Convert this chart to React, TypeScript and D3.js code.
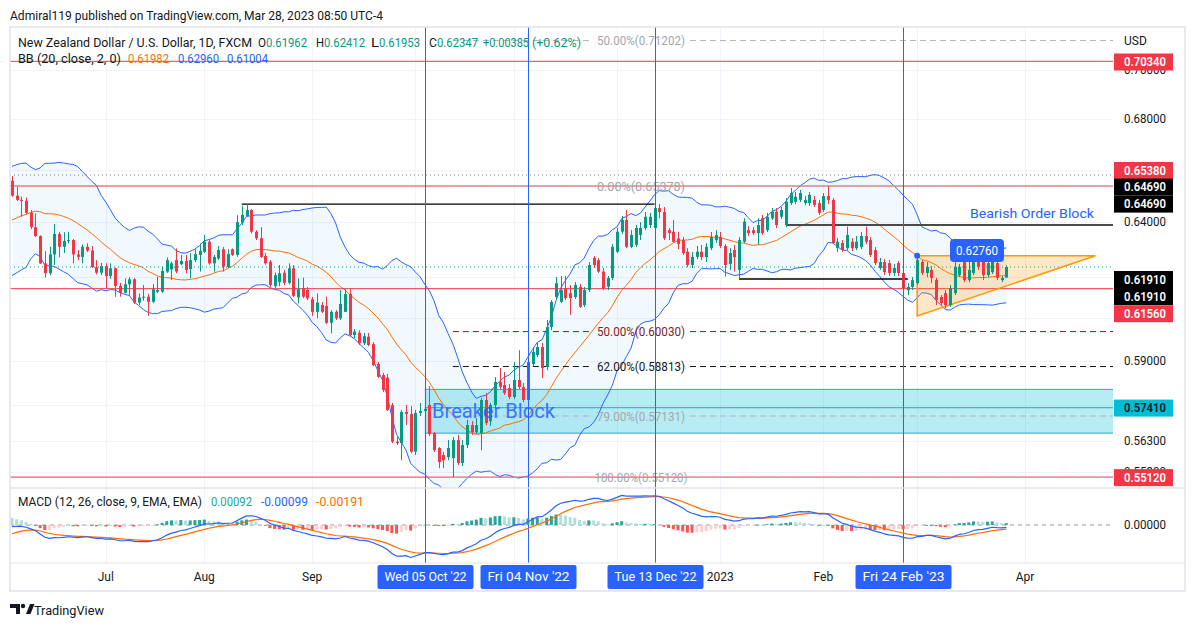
import React from 'react';
import * as d3 from 'd3';

// ---------- DATA ----------
const FIRST_BAR = '2022-06-03';

const OPEN = [
  0.6558,0.6501,0.6485,0.6482,0.6436,0.6382,0.6349,0.6248,0.6212,0.6281,
  0.6357,0.6309,0.6331,0.6334,0.6281,0.6272,0.6309,0.6295,0.6234,0.6214,
  0.6238,0.6202,0.6230,0.6166,0.6141,0.6172,0.6190,0.6106,0.6124,0.6127,
  0.6109,0.6145,0.6145,0.6218,0.6226,0.6260,0.6245,0.6257,0.6227,0.6260,
  0.6279,0.6290,0.6328,0.6248,0.6266,0.6300,0.6234,0.6300,0.6279,0.6399,
  0.6424,0.6447,0.6365,0.6341,0.6275,0.6254,0.6165,0.6180,0.6214,0.6177,
  0.6230,0.6125,0.6157,0.6151,0.6118,0.6073,0.6097,0.6094,0.6034,0.6073,
  0.6050,0.6073,0.6137,0.5991,0.5999,0.5962,0.5985,0.5959,0.5890,0.5852,
  0.5843,0.5750,0.5628,0.5623,0.5727,0.5720,0.5595,0.5723,0.5730,0.5750,
  0.5656,0.5607,0.5584,0.5577,0.5574,0.5633,0.5558,0.5617,0.5683,0.5660,
  0.5656,0.5767,0.5696,0.5750,0.5828,0.5818,0.5808,0.5777,0.5835,0.5811,
  0.5767,0.5890,0.5921,0.5949,0.5880,0.6019,0.6126,0.6109,0.6158,0.6140,
  0.6126,0.6163,0.6097,0.6151,0.6268,0.6260,0.6218,0.6163,0.6195,0.6291,
  0.6365,0.6409,0.6309,0.6316,0.6353,0.6379,0.6390,0.6379,0.6454,0.6439,
  0.6371,0.6365,0.6340,0.6334,0.6291,0.6242,0.6272,0.6291,0.6271,0.6304,
  0.6334,0.6346,0.6312,0.6246,0.6297,0.6224,0.6328,0.6371,0.6371,0.6360,
  0.6416,0.6371,0.6415,0.6440,0.6421,0.6390,0.6473,0.6478,0.6485,0.6473,
  0.6473,0.6485,0.6473,0.6447,0.6500,0.6485,0.6304,0.6323,0.6304,0.6328,
  0.6304,0.6308,0.6349,0.6334,0.6297,0.6231,0.6253,0.6249,0.6213,0.6249,
  0.6213,0.6151,0.6162,0.6176,0.6253,0.6213,0.6224,0.6187,0.6126,0.6140,
  0.6097,0.6140,0.6205,0.6253,0.6187,0.6213,0.6271,0.6253,0.6205,0.6216,
  0.6249,0.6187,0.61962,
];
const HIGH = [
  0.6576,0.6535,0.6497,0.6494,0.6447,0.6434,0.6352,0.6293,0.6309,0.6394,
  0.6365,0.6363,0.6365,0.6338,0.6297,0.6318,0.6322,0.6312,0.6260,0.6250,
  0.6248,0.6248,0.6233,0.6177,0.6193,0.6198,0.6194,0.6139,0.6169,0.6137,
  0.6172,0.6199,0.6236,0.6270,0.6254,0.6303,0.6279,0.6279,0.6285,0.6300,
  0.6321,0.6353,0.6337,0.6279,0.6312,0.6309,0.6300,0.6303,0.6427,0.6463,
  0.6469,0.6450,0.6371,0.6382,0.6286,0.6260,0.6215,0.6242,0.6224,0.6248,
  0.6242,0.6193,0.6196,0.6162,0.6126,0.6139,0.6108,0.6127,0.6079,0.6079,
  0.6151,0.6154,0.6154,0.6012,0.6008,0.5998,0.5998,0.5966,0.5897,0.5859,
  0.5856,0.5757,0.5643,0.5733,0.5750,0.5747,0.5733,0.5757,0.5753,0.5814,
  0.5660,0.5610,0.5594,0.5633,0.5643,0.5650,0.5633,0.5700,0.5696,0.5706,
  0.5774,0.5791,0.5757,0.5845,0.5876,0.5862,0.5821,0.5897,0.5938,0.5825,
  0.5928,0.5949,0.5963,0.5963,0.6044,0.6115,0.6198,0.6202,0.6202,0.6169,
  0.6180,0.6173,0.6162,0.6253,0.6275,0.6268,0.6231,0.6202,0.6319,0.6379,
  0.6424,0.6447,0.6371,0.6390,0.6401,0.6439,0.6436,0.6514,0.6469,0.6458,
  0.6379,0.6409,0.6365,0.6345,0.6304,0.6290,0.6312,0.6316,0.6322,0.6364,
  0.6371,0.6364,0.6319,0.6304,0.6316,0.6345,0.6416,0.6386,0.6382,0.6416,
  0.6428,0.6436,0.6454,0.6454,0.6458,0.6492,0.6530,0.6515,0.6523,0.6500,
  0.6515,0.6500,0.6485,0.6511,0.6538,0.6492,0.6341,0.6334,0.6384,0.6341,
  0.6349,0.6364,0.6384,0.6345,0.6308,0.6268,0.6264,0.6260,0.6246,0.6257,
  0.6249,0.6176,0.6198,0.6276,0.6260,0.6253,0.6238,0.6195,0.6133,0.6151,
  0.6169,0.6260,0.6246,0.6268,0.6271,0.6290,0.6279,0.6268,0.6297,0.6304,
  0.6260,0.6202,0.62412,
];
const LOW = [
  0.6497,0.6481,0.6421,0.6432,0.6375,0.6345,0.6246,0.6196,0.6205,0.6242,
  0.6270,0.6286,0.6322,0.6248,0.6260,0.6248,0.6290,0.6231,0.6208,0.6205,
  0.6157,0.6191,0.6127,0.6127,0.6139,0.6130,0.6101,0.6097,0.6113,0.6059,
  0.6105,0.6140,0.6141,0.6213,0.6187,0.6212,0.6241,0.6212,0.6193,0.6253,
  0.6218,0.6286,0.6243,0.6218,0.6260,0.6218,0.6231,0.6275,0.6272,0.6390,
  0.6421,0.6359,0.6334,0.6268,0.6243,0.6163,0.6158,0.6165,0.6169,0.6172,
  0.6126,0.6103,0.6122,0.6115,0.6059,0.6050,0.6069,0.6030,0.5997,0.6044,
  0.6044,0.6072,0.5987,0.5980,0.5956,0.5956,0.5952,0.5883,0.5842,0.5794,
  0.5730,0.5623,0.5617,0.5567,0.5683,0.5590,0.5584,0.5713,0.5720,0.5646,
  0.5594,0.5541,0.5541,0.5567,0.5512,0.5551,0.5548,0.5607,0.5650,0.5653,
  0.5600,0.5683,0.5680,0.5740,0.5804,0.5784,0.5770,0.5770,0.5804,0.5760,
  0.5760,0.5883,0.5914,0.5842,0.5869,0.6008,0.6115,0.6104,0.6115,0.6062,
  0.6119,0.6087,0.6090,0.6144,0.6231,0.6213,0.6151,0.6151,0.6187,0.6286,
  0.6357,0.6304,0.6304,0.6308,0.6334,0.6371,0.6379,0.6371,0.6416,0.6334,
  0.6334,0.6323,0.6300,0.6279,0.6234,0.6231,0.6264,0.6260,0.6253,0.6297,
  0.6323,0.6304,0.6200,0.6224,0.6218,0.6191,0.6323,0.6349,0.6353,0.6316,
  0.6353,0.6364,0.6409,0.6379,0.6413,0.6382,0.6465,0.6469,0.6477,0.6465,
  0.6462,0.6458,0.6428,0.6439,0.6469,0.6319,0.6290,0.6290,0.6297,0.6293,
  0.6297,0.6300,0.6319,0.6271,0.6242,0.6224,0.6205,0.6202,0.6202,0.6202,
  0.6151,0.6133,0.6151,0.6169,0.6205,0.6198,0.6176,0.6097,0.6094,0.6085,
  0.6090,0.6133,0.6198,0.6180,0.6180,0.6205,0.6224,0.6187,0.6198,0.6209,
  0.6187,0.6180,0.61953,
];
const CLOSE = [
  0.6501,0.6485,0.6482,0.6436,0.6382,0.6349,0.6248,0.6212,0.6281,0.6357,
  0.6309,0.6331,0.6334,0.6281,0.6272,0.6309,0.6295,0.6234,0.6214,0.6238,
  0.6202,0.6230,0.6166,0.6141,0.6172,0.6190,0.6106,0.6124,0.6127,0.6109,
  0.6154,0.6151,0.6220,0.6260,0.6248,0.6218,0.6257,0.6224,0.6260,0.6282,
  0.6294,0.6328,0.6248,0.6272,0.6297,0.6236,0.6282,0.6279,0.6401,0.6428,
  0.6447,0.6365,0.6341,0.6272,0.6248,0.6169,0.6205,0.6212,0.6177,0.6230,
  0.6130,0.6154,0.6127,0.6121,0.6073,0.6106,0.6073,0.6034,0.6073,0.6050,
  0.6101,0.6137,0.5991,0.6003,0.5962,0.5987,0.5956,0.5886,0.5846,0.5801,
  0.5733,0.5628,0.5623,0.5727,0.5720,0.5595,0.5723,0.5730,0.5737,0.5653,
  0.5600,0.5561,0.5567,0.5607,0.5633,0.5558,0.5617,0.5683,0.5660,0.5683,
  0.5767,0.5690,0.5750,0.5828,0.5811,0.5791,0.5777,0.5835,0.5811,0.5767,
  0.5897,0.5932,0.5949,0.5876,0.6019,0.6108,0.6176,0.6151,0.6122,0.6122,
  0.6169,0.6091,0.6151,0.6242,0.6242,0.6218,0.6157,0.6195,0.6309,0.6365,
  0.6409,0.6309,0.6353,0.6379,0.6379,0.6421,0.6421,0.6454,0.6439,0.6341,
  0.6360,0.6328,0.6320,0.6286,0.6242,0.6272,0.6291,0.6271,0.6309,0.6345,
  0.6353,0.6312,0.6242,0.6286,0.6271,0.6334,0.6403,0.6360,0.6360,0.6390,
  0.6360,0.6421,0.6440,0.6390,0.6447,0.6478,0.6511,0.6497,0.6511,0.6485,
  0.6504,0.6466,0.6436,0.6500,0.6485,0.6323,0.6328,0.6297,0.6353,0.6304,
  0.6328,0.6349,0.6328,0.6279,0.6249,0.6253,0.6216,0.6213,0.6231,0.6213,
  0.6158,0.6162,0.6187,0.6260,0.6213,0.6235,0.6195,0.6115,0.6104,0.6097,
  0.6158,0.6235,0.6235,0.6187,0.6224,0.6271,0.6235,0.6205,0.6249,0.6260,
  0.6195,0.6195,0.62347,
];
// estimated closes before the first visible bar (Apr 1 - Jun 2 2022), only to seed BB / MACD
const WARMUP_CLOSE = [
  0.6930,0.6950,0.6985,0.6920,0.6870,0.6845,0.6830,0.6850,0.6830,0.6770,
  0.6780,0.6760,0.6740,0.6790,0.6720,0.6700,0.6620,0.6580,0.6550,0.6500,
  0.6460,0.6470,0.6450,0.6530,0.6410,0.6370,0.6320,0.6320,0.6340,0.6220,
  0.6260,0.6290,0.6360,0.6290,0.6370,0.6380,0.6450,0.6460,0.6460,0.6500,
  0.6540,0.6530,0.6520,0.6500,0.6560,
];

const PRICE_TICKS = [0.70, 0.68, 0.66, 0.64, 0.62, 0.605, 0.59, 0.575, 0.563, 0.553];
const MONTH_LABELS = ['Jul', 'Aug', 'Sep', 'Oct', 'Nov', 'Dec', '2023', 'Feb', 'Mar', 'Apr'];
const MONTH_DATES = ['2022-07-01', '2022-08-01', '2022-09-01', '2022-10-03', '2022-11-01', '2022-12-01', '2023-01-02', '2023-02-01', '2023-03-01', '2023-04-03'];
const MARKER_LABELS = ["Wed 05 Oct '22", "Fri 04 Nov '22", "Tue 13 Dec '22", "Fri 24 Feb '23"];
const MARKER_DATES = ['2022-10-05', '2022-11-04', '2022-12-13', '2023-02-24'];

const RED_LEVELS = [0.7034, 0.6538, 0.6156, 0.5512];
const GREY_DOTTED_LEVEL = 0.6580;
const HIGH_LINE = { price: 0.6469, from: '2022-08-11', to: '2022-12-13' };
const LOW_LINE = { price: 0.6191, from: '2023-01-06', to: '2023-02-27' };
const ORDER_BLOCK = { price: 0.6390, from: '2023-01-20' };
const FIB_FROM = '2022-10-13';
const FIB_LABELS = ['50.00%(0.71202)', '0.00%(0.65378)', '50.00%(0.60030)', '62.00%(0.58813)', '79.00%(0.57131)', '100.00%(0.55120)'];
const FIB_PRICES = [0.71202, 0.65378, 0.6003, 0.58813, 0.57131, 0.5512];
const FIB_COLORS = ['#b2b5be', '#b2b5be', '#7f1d1d', '#131722', '#b2b5be', '#b2b5be'];
const BREAKER = { from: '2022-10-05', top: 0.5803, mid: 0.5741, bottom: 0.5656 };
const TRIANGLE = { from: '2023-03-01', toBar: 231, top: 0.6276, bottom: 0.6058 };

const AXIS_LABEL_TEXT = ['0.70340', '0.65380', '0.64690', '0.64690', '0.61910', '0.61910', '0.61560', '0.57410', '0.55120'];
const AXIS_LABEL_PRICE = [0.7034, 0.6538, 0.6469, 0.6469, 0.6191, 0.6191, 0.6156, 0.5741, 0.5512];
const AXIS_LABEL_KIND = ['red', 'red', 'black', 'black', 'black', 'black', 'red', 'cyan', 'red'];

const HEADER = 'Admiral119 published on TradingView.com, Mar 28, 2023 08:50 UTC-4';
const SYMBOL = 'New Zealand Dollar / U.S. Dollar, 1D, FXCM';
const OHLC_KEYS = ['O', 'H', 'L', 'C'];
const OHLC_VALUES = ['0.61962', '0.62412', '0.61953', '0.62347'];
const CHANGE = ['+0.00385', '(+0.62%)'];
const BB_TITLE = 'BB (20, close, 2, 0)';
const BB_VALUES = ['0.61982', '0.62960', '0.61004'];
const MACD_TITLE = 'MACD (12, 26, close, 9, EMA, EMA)';
const MACD_VALUES = ['0.00092', '-0.00099', '-0.00191'];

// ---------- helpers ----------
const FONT = 'Roboto, "Noto Sans", "DejaVu Sans", sans-serif';
const UP = '#089981';
const DOWN = '#f23645';
const BLUE = '#2962ff';
const ORANGE = '#ff6d00';

function barIndex(dateStr: string): number {
  const [y0, m0, d0] = FIRST_BAR.split('-').map(Number);
  const [y1, m1, d1] = dateStr.split('-').map(Number);
  const t = new Date(Date.UTC(y0, m0 - 1, d0));
  const end = new Date(Date.UTC(y1, m1 - 1, d1));
  let n = 0;
  while (t < end) {
    const wd = t.getUTCDay();
    if (wd !== 0 && wd !== 6) n++;
    t.setUTCDate(t.getUTCDate() + 1);
  }
  return n;
}

function ema(values: number[], n: number): number[] {
  const k = 2 / (n + 1);
  const out: number[] = [];
  let prev = values[0];
  values.forEach((v, i) => {
    prev = i === 0 ? v : v * k + prev * (1 - k);
    out.push(prev);
  });
  return out;
}

function Txt(props: any) {
  const { x, y, children, fill = '#131722', size = 12, anchor = 'start', len, weight, opacity } = props;
  return (
    <text
      x={x}
      y={y}
      fill={fill}
      fontSize={size}
      fontFamily={FONT}
      textAnchor={anchor}
      dominantBaseline="central"
      textLength={len}
      lengthAdjust={len ? 'spacingAndGlyphs' : undefined}
      fontWeight={weight}
      opacity={opacity}
    >
      {children}
    </text>
  );
}

export default function App() {
  const W = 1194;
  const H = 627;
  const PL = 10;
  const PR = 1113;
  const AXR = 1185;
  const TOP = 27;
  const MAIN_B = 488;
  const MACD_B = 563;
  const BOT = 591;

  const n = CLOSE.length;
  const x = d3.scaleLinear().domain([0, 212]).range([12, 1006.3]);
  const y = d3.scaleLog().domain([0.563, 0.68]).range([441, 119]);
  const ym = d3.scaleLinear().domain([-0.0133, 0.0125]).range([557, 495]);

  // indicators
  const all = WARMUP_CLOSE.concat(CLOSE);
  const W0 = WARMUP_CLOSE.length;
  const bb = CLOSE.map((_, i) => {
    const j = i + W0;
    const win = all.slice(j - 19, j + 1);
    const m = d3.mean(win) as number;
    const sd = Math.sqrt(d3.mean(win.map((v) => (v - m) * (v - m))) as number);
    return { i, m, up: m + 2 * sd, lo: m - 2 * sd };
  });
  const e12 = ema(all, 12);
  const e26 = ema(all, 26);
  const macdAll = all.map((_, j) => e12[j] - e26[j]);
  const sigAll = ema(macdAll, 9);
  const macd = CLOSE.map((_, i) => {
    const j = i + W0;
    const h = macdAll[j] - sigAll[j];
    const ph = macdAll[j - 1] - sigAll[j - 1];
    let col;
    if (h >= 0) col = h > ph ? '#26a69a' : '#b2dfdb';
    else col = h < ph ? '#ff5252' : '#ffcdd2';
    return { i, m: macdAll[j], s: sigAll[j], h, col };
  });

  const bbArea = d3.area<any>().x((d) => x(d.i)).y0((d) => y(d.lo)).y1((d) => y(d.up))(bb) || '';
  const bbUp = d3.line<any>().x((d) => x(d.i)).y((d) => y(d.up))(bb) || '';
  const bbLo = d3.line<any>().x((d) => x(d.i)).y((d) => y(d.lo))(bb) || '';
  const bbMid = d3.line<any>().x((d) => x(d.i)).y((d) => y(d.m))(bb) || '';
  const macdLine = d3.line<any>().x((d) => x(d.i)).y((d) => ym(d.m))(macd) || '';
  const sigLine = d3.line<any>().x((d) => x(d.i)).y((d) => ym(d.s))(macd) || '';

  const monthX = MONTH_DATES.map((d) => x(barIndex(d)));
  const markerX = MARKER_DATES.map((d) => Math.round(x(barIndex(d))) + 0.5);
  const BOX_HALF = 48;
  // month labels hidden under a date marker box are not drawn (as in the reference)
  const monthVisible = monthX.map((mx) => markerX.every((bx) => Math.abs(mx - bx) > BOX_HALF + 8));

  const fibX0 = x(barIndex(FIB_FROM));
  const labelShift = [0.7, -15.5, -17, 0, 0.5, 17.5, 25, 0.4, 0.5];
  const labelY = AXIS_LABEL_PRICE.map((p, k) => y(p) + labelShift[k]);
  // tick labels fully covered by a coloured price label are not drawn
  const tickVisible = PRICE_TICKS.map((p) => labelY.every((ly) => Math.abs(y(p) - ly) > 5.5));

  const bx0 = x(barIndex(BREAKER.from));
  const triX0 = x(barIndex(TRIANGLE.from));
  const triX1 = x(TRIANGLE.toBar);
  const lastClose = CLOSE[n - 1];

  return (
    <div style={{ position: 'absolute', left: 0, top: 0, width: W, height: H, background: '#fff' }}>
      <svg width={W} height={H} style={{ display: 'block' }}>
        <defs>
          <clipPath id="mainClip">
            <rect x={PL} y={TOP} width={PR - PL} height={MAIN_B - TOP} />
          </clipPath>
          <clipPath id="macdClip">
            <rect x={PL} y={MAIN_B} width={PR - PL} height={MACD_B - MAIN_B} />
          </clipPath>
        </defs>
        <rect x={0} y={0} width={W} height={H} fill="#fff" />

        {/* header */}
        <Txt x={10} y={15} size={13} len={373}>{HEADER}</Txt>

        {/* grid */}
        <g stroke="#f0f3fa" strokeWidth={1}>
          {PRICE_TICKS.map((p, k) => (
            <line key={'hg' + k} x1={PL} x2={PR} y1={Math.round(y(p)) + 0.5} y2={Math.round(y(p)) + 0.5} />
          ))}
          {monthX.map((mx, k) => (
            <line key={'vg' + k} x1={Math.round(mx) + 0.5} x2={Math.round(mx) + 0.5} y1={TOP} y2={MACD_B} />
          ))}
        </g>

        <g clipPath="url(#mainClip)">
          {/* breaker block */}
          <rect x={bx0} y={y(BREAKER.top)} width={PR - bx0} height={y(BREAKER.bottom) - y(BREAKER.top)} fill="rgba(0,188,212,0.28)" />
          {[BREAKER.top, BREAKER.mid, BREAKER.bottom].map((p, k) => (
            <line key={'bk' + k} x1={bx0} x2={PR} y1={y(p)} y2={y(p)} stroke="#00bcd4" strokeWidth={1} />
          ))}

          {/* Bollinger bands */}
          <path d={bbArea} fill="rgba(33,150,243,0.06)" />
          <path d={bbUp} fill="none" stroke={BLUE} strokeWidth={1} />
          <path d={bbLo} fill="none" stroke={BLUE} strokeWidth={1} />
          <path d={bbMid} fill="none" stroke={ORANGE} strokeWidth={1} />

          {/* horizontal levels */}
          <line x1={PL} x2={PR} y1={y(GREY_DOTTED_LEVEL)} y2={y(GREY_DOTTED_LEVEL)} stroke="#787b86" strokeDasharray="1 3" />
          {RED_LEVELS.map((p, k) => (
            <line key={'rl' + k} x1={PL} x2={PR} y1={y(p)} y2={y(p)} stroke={DOWN} strokeWidth={1} />
          ))}
          <line x1={PL} x2={PR} y1={y(lastClose)} y2={y(lastClose)} stroke={UP} strokeDasharray="1 3" />
          <line x1={x(barIndex(HIGH_LINE.from))} x2={x(barIndex(HIGH_LINE.to))} y1={y(HIGH_LINE.price)} y2={y(HIGH_LINE.price)} stroke="#000" strokeWidth={1.3} />
          <line x1={x(barIndex(LOW_LINE.from))} x2={x(barIndex(LOW_LINE.to))} y1={y(LOW_LINE.price)} y2={y(LOW_LINE.price)} stroke="#000" strokeWidth={1.3} />
          <line x1={x(barIndex(ORDER_BLOCK.from))} x2={PR} y1={y(ORDER_BLOCK.price)} y2={y(ORDER_BLOCK.price)} stroke="#4a4a4a" strokeWidth={2} />

          {/* fib levels */}
          {FIB_PRICES.map((p, k) => (
            <g key={'fb' + k}>
              <line x1={fibX0} x2={592} y1={y(p)} y2={y(p)} stroke={FIB_COLORS[k]} strokeDasharray="6 4" />
              <line x1={690} x2={PR} y1={y(p)} y2={y(p)} stroke={FIB_COLORS[k]} strokeDasharray="6 4" />
            </g>
          ))}

          {/* triangle */}
          <path
            d={`M${triX0},${y(TRIANGLE.top)} L${triX1},${y(TRIANGLE.top)} L${triX0},${y(TRIANGLE.bottom)} Z`}
            fill="rgba(255,152,0,0.22)"
            stroke="#ff9800"
            strokeWidth={1.5}
          />

          {/* candles */}
          {CLOSE.map((c, i) => {
            const o = OPEN[i];
            const col = c >= o ? UP : DOWN;
            const cx = Math.round(x(i)) + 0.5;
            const yt = y(Math.max(o, c));
            const yb = y(Math.min(o, c));
            return (
              <g key={'c' + i}>
                <line x1={cx} x2={cx} y1={y(HIGH[i])} y2={y(LOW[i])} stroke={col} strokeWidth={1} />
                <rect x={cx - 1.5} y={yt} width={3} height={Math.max(1, yb - yt)} fill={col} />
              </g>
            );
          })}

          {/* texts on chart */}
          <Txt x={432} y={411} size={20} fill={BLUE} opacity={0.85} len={123}>Breaker Block</Txt>
          <Txt x={970} y={213} size={13.5} fill={BLUE} len={124}>Bearish Order Block</Txt>
          {FIB_LABELS.map((t, k) => (
            <Txt key={'fl' + k} x={641} y={y(FIB_PRICES[k])} size={12.5} anchor="middle" fill={FIB_COLORS[k] === '#b2b5be' ? '#a3a6af' : FIB_COLORS[k]} len={k === 5 ? 93 : 88}>{t}</Txt>
          ))}
          <circle cx={triX0} cy={y(TRIANGLE.top)} r={3} fill={BLUE} />
          <rect x={950} y={239} width={54} height={23} rx={4} fill={BLUE} />
          <Txt x={977} y={250.5} size={12} anchor="middle" fill="#fff" len={42}>{TRIANGLE.top.toFixed(5)}</Txt>
        </g>

        {/* marker vertical lines */}
        {markerX.map((mx, k) => (
          <line key={'mk' + k} x1={mx} x2={mx} y1={TOP} y2={MACD_B} stroke={BLUE} strokeWidth={1} />
        ))}

        {/* legend */}
        <Txt x={18} y={42.5} len={234}>{SYMBOL}</Txt>
        {OHLC_KEYS.map((k, idx) => {
          const xs = [258, 316, 371, 429][idx];
          return (
            <g key={'ohlc' + k}>
              <Txt x={xs} y={42.5} len={8}>{k}</Txt>
              <Txt x={xs + 8} y={42.5} fill={UP} len={41}>{OHLC_VALUES[idx]}</Txt>
            </g>
          );
        })}
        <Txt x={483} y={42.5} fill={UP} len={46}>{CHANGE[0]}</Txt>
        <Txt x={532} y={42.5} fill={UP} len={49}>{CHANGE[1]}</Txt>
        <Txt x={18} y={59} len={103}>{BB_TITLE}</Txt>
        <Txt x={128} y={59} fill={ORANGE} len={41}>{BB_VALUES[0]}</Txt>
        <Txt x={178} y={59} fill={BLUE} len={41}>{BB_VALUES[1]}</Txt>
        <Txt x={227} y={59} fill={BLUE} len={41}>{BB_VALUES[2]}</Txt>

        {/* MACD pane */}
        <g clipPath="url(#macdClip)">
          <line x1={PL} x2={PR} y1={ym(0)} y2={ym(0)} stroke="#9598a1" strokeDasharray="4 4" strokeWidth={1} />
          {macd.map((d) => {
            const y0 = ym(0);
            const y1 = ym(d.h);
            return <rect key={'h' + d.i} x={x(d.i) - 1.5} y={Math.min(y0, y1)} width={3} height={Math.max(0.8, Math.abs(y1 - y0))} fill={d.col} />;
          })}
          <path d={sigLine} fill="none" stroke={ORANGE} strokeWidth={1.2} />
          <path d={macdLine} fill="none" stroke={BLUE} strokeWidth={1.2} />
        </g>
        <Txt x={18} y={502} len={184}>{MACD_TITLE}</Txt>
        <Txt x={211} y={502} fill="#26a69a" len={41}>{MACD_VALUES[0]}</Txt>
        <Txt x={261} y={502} fill={BLUE} len={47}>{MACD_VALUES[1]}</Txt>
        <Txt x={316} y={502} fill={ORANGE} len={48}>{MACD_VALUES[2]}</Txt>

        {/* frame */}
        <g stroke="#e0e3eb" strokeWidth={1.5} fill="none">
          <rect x={PL} y={TOP} width={AXR - PL} height={BOT - TOP} />
          <line x1={PL} x2={AXR} y1={MAIN_B} y2={MAIN_B} />
          <line x1={PL} x2={AXR} y1={MACD_B} y2={MACD_B} strokeWidth={1} />
        </g>

        {/* price axis */}
        <Txt x={1124} y={41} size={12}>USD</Txt>
        {PRICE_TICKS.map((p, k) =>
          tickVisible[k] ? (
            <Txt key={'pt' + k} x={1124} y={y(p)} size={12} len={42}>{p.toFixed(5)}</Txt>
          ) : null
        )}
        <Txt x={1124} y={ym(0)} size={12} len={42}>{(0).toFixed(5)}</Txt>
        {AXIS_LABEL_TEXT.map((t, k) => {
          const yc = labelY[k];
          const kind = AXIS_LABEL_KIND[k];
          const bg = kind === 'red' ? DOWN : kind === 'black' ? '#000' : '#00bcd4';
          const fg = kind === 'cyan' ? '#131722' : '#fff';
          return (
            <g key={'al' + k}>
              <rect x={1114} y={yc - 8.5} width={59} height={17} fill={bg} />
              <Txt x={1124} y={yc} size={12} fill={fg} weight={600} len={42}>{t}</Txt>
            </g>
          );
        })}

        {/* time axis */}
        {MONTH_LABELS.map((t, k) =>
          monthVisible[k] ? (
            <Txt key={'ml' + k} x={monthX[k]} y={577} size={12} anchor="middle">{t}</Txt>
          ) : null
        )}
        {MARKER_LABELS.map((t, k) => (
          <g key={'mb' + k}>
            <rect x={markerX[k] - BOX_HALF} y={565} width={BOX_HALF * 2} height={24} rx={2} fill={BLUE} />
            <Txt x={markerX[k]} y={577} size={12} anchor="middle" fill="#fff" len={82}>{t}</Txt>
          </g>
        ))}

        {/* footer */}
        <g fill="#131722">
          <path d="M10,604 h10 v10 h-4 v-6 h-6 z" />
          <circle cx={23} cy={606} r={2.2} />
          <path d="M26,614 l4,-10 h4.5 l-4,10 z" />
        </g>
        <Txt x={34} y={610} size={13.5} len={70}>TradingView</Txt>
      </svg>
    </div>
  );
}
